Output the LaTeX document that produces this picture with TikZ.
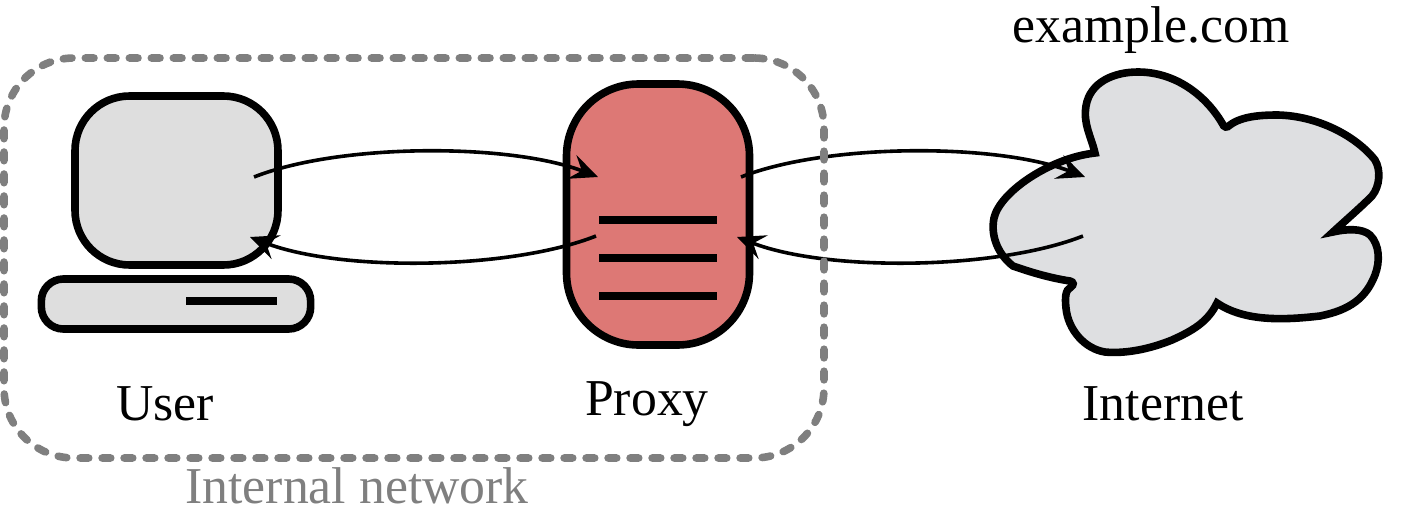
\documentclass[tikz,border=0pt]{standalone}
\usepackage{fontspec}
\setmainfont{Liberation Serif}
\usetikzlibrary{arrows.meta}
\definecolor{shellgray}{HTML}{DEDEDE}
\definecolor{cloudgray}{HTML}{DEDFE1}
\definecolor{proxyred}{HTML}{DD7875}
\definecolor{netgray}{HTML}{7F7F7F}
\tikzset{
  x=0.75pt,y=-0.75pt,
  thickline/.style={line width=5.7pt,draw=black},
  bar/.style={line width=5.5pt,draw=black},
  boxshape/.style={thickline,rectangle,inner sep=0pt,outer sep=0pt},
  flow/.style={line width=2.7pt,draw=black,-{Stealth[length=21pt,width=19pt,inset=8pt]}},
  groupline/.style={line width=5.7pt,draw=netgray,line cap=round,dash pattern=on 6.5pt off 10pt},
  label/.style={font=\fontsize{38.8}{46}\selectfont,inner sep=0pt,anchor=base},
}
\begin{document}
\begin{tikzpicture}
\useasboundingbox (0,0) rectangle (1404,532);
% user
\node[boxshape,fill=shellgray,minimum width=152.25pt,minimum height=126.75pt,rounded corners=41pt] (screen) at (176.5,180.5) {};
\node[boxshape,fill=shellgray,minimum width=202pt,minimum height=37.5pt,rounded corners=16.5pt] (keyboard) at (176,304) {};
\coordinate (kbl) at (186,301); \coordinate (kbr) at (277,301);
\draw[bar] (kbl) -- (kbr);
% proxy
\node[boxshape,fill=proxyred,minimum width=137.25pt,minimum height=195.75pt,rounded corners=54pt] (proxy) at (658,214.5) {};
\coordinate (a1) at (599,220); \coordinate (a2) at (717,220);
\coordinate (b1) at (599,258); \coordinate (b2) at (717,258);
\coordinate (c1) at (599,296); \coordinate (c2) at (717,296);
\draw[bar] (a1) -- (a2);
\draw[bar] (b1) -- (b2);
\draw[bar] (c1) -- (c2);
% cloud
\draw[thickline,fill=cloudgray,line join=miter,miter limit=10] (1095,153)
  .. controls (1091,136) and (1083,124) .. (1086,106)
  .. controls (1090,82) and (1114,72) .. (1138,72)
  .. controls (1176,72) and (1206,96) .. (1222,123)
  .. controls (1224,128) and (1227,128) .. (1230,125)
  .. controls (1242,116) and (1262,115) .. (1278,115)
  .. controls (1318,116) and (1356,136) .. (1375,160)
  .. controls (1381,170) and (1380,186) .. (1372,196)
  .. controls (1360,208) and (1346,220) .. (1333,232)
  .. controls (1346,229) and (1362,228) .. (1370,235)
  .. controls (1380,245) and (1380,262) .. (1375,275)
  .. controls (1366,298) and (1350,310) .. (1320,316)
  .. controls (1285,320) and (1245,322) .. (1217,303)
  .. controls (1208,322) and (1192,331) .. (1172,340)
  .. controls (1150,349) and (1125,354) .. (1105,352)
  .. controls (1085,349) and (1068,330) .. (1066,308)
  .. controls (1065,298) and (1065,290) .. (1071,287)
  .. controls (1074,285) and (1074,282) .. (1070,281)
  .. controls (1050,278) and (1030,272) .. (1013,266)
  .. controls (1000,256) and (990,238) .. (994,218)
  .. controls (1000,192) and (1050,158) .. (1095,153)
  -- cycle;
% connectors
\coordinate (u1) at (254,177); \coordinate (p1) at (598,177);
\coordinate (p2) at (596,236); \coordinate (u2) at (250,237);
\coordinate (p3) at (741,177); \coordinate (n1) at (1085,177);
\coordinate (n2) at (1083,236); \coordinate (p4) at (737,237);
\draw[flow] (u1) .. controls (340,143) and (510,143) .. (p1);
\draw[flow] (p2) .. controls (510,270) and (340,272) .. (u2);
\draw[flow] (p3) .. controls (827,143) and (997,143) .. (n1);
\draw[flow] (n2) .. controls (997,270) and (827,272) .. (p4);
% internal network
\node[groupline,rectangle,inner sep=0pt,outer sep=0pt,minimum width=615pt,minimum height=300pt,rounded corners=52.5pt] (group) at (414,258) {};
% labels
\node[label] (user) at (165,420) {User};
\node[label] (proxylabel) at (647,415) {Proxy};
\node[label] (internet) at (1163,420) {Internet};
\node[label] (site) at (1151,42) {example.com};
\node[label,text=netgray] (internal) at (357,503) {Internal network};
\end{tikzpicture}
\end{document}
